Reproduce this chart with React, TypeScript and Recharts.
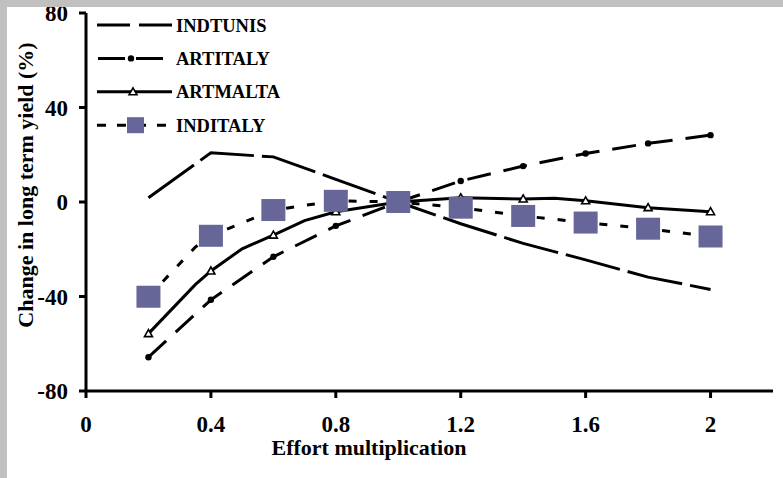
import React from 'react';
import { LineChart, Line, XAxis, YAxis, Label } from 'recharts';

// effort multipliers where every series has a value (markers drawn here)
const effort = [0.2, 0.4, 0.6, 0.8, 1.0, 1.2, 1.4, 1.6, 1.8, 2.0];

const indTunis = [1.8, 20.8, 19.1, 9.6, 0, -9.2, -17.5, -24.5, -31.8, -37];
const artItaly = [-65.7, -41.4, -23.2, -10.1, 0, 8.9, 15.2, 20.5, 24.8, 28.3];

// ARTMALTA and INDITALY have a few extra runs between the main steps
const maltaEffort = [0.2, 0.35, 0.4, 0.5, 0.6, 0.7, 0.8, 1.0, 1.2, 1.4, 1.5, 1.6, 1.8, 2.0];
const artMalta = [-55.7, -35, -29.2, -19.8, -14, -7.9, -4.1, 0, 1.8, 1.3, 1.6, 0.5, -2.4, -4.1];

const italyEffort = [0.2, 0.35, 0.4, 0.6, 0.8, 1.0, 1.2, 1.4, 1.6, 1.8, 2.0];
const indItaly = [-40.1, -19.1, -14.3, -3.4, 0.5, 0, -2.4, -5.9, -8.7, -11.3, -14.6];

const xTicks = [0, 0.4, 0.8, 1.2, 1.6, 2];
const yTicks = [-80, -40, 0, 40, 80];
const seriesNames = ['INDTUNIS', 'ARTITALY', 'ARTMALTA', 'INDITALY'];

const SERIF = '"Liberation Serif", "Times New Roman", serif';
const SQUARE = '#666699';

const toPoints = (xs: number[], ys: number[]) => ys.map((y, i) => ({ x: xs[i], y }));
const isMain = (x: number) => effort.includes(x);

const circleDot = (p: any) =>
  isMain(p.payload.x) ? (
    <circle key={`c${p.index}`} cx={p.cx} cy={p.cy} r={3.2} fill="#000" />
  ) : (
    <g key={`c${p.index}`} />
  );

const triangleDot = (p: any) =>
  isMain(p.payload.x) ? (
    <path
      key={`t${p.index}`}
      d={`M${p.cx},${p.cy - 4} L${p.cx + 4},${p.cy + 3} L${p.cx - 4},${p.cy + 3} Z`}
      fill="#fff"
      stroke="#000"
      strokeWidth={1.6}
    />
  ) : (
    <g key={`t${p.index}`} />
  );

const squareDot = (p: any) =>
  isMain(p.payload.x) ? (
    <rect key={`s${p.index}`} x={p.cx - 12} y={p.cy - 11} width={24} height={22} fill={SQUARE} />
  ) : (
    <g key={`s${p.index}`} />
  );

const tickStyle = { fill: '#000', fontSize: 23, fontWeight: 'bold', fontFamily: SERIF };
const axisStroke = { stroke: '#000', strokeWidth: 3 };

function LegendBox() {
  const rowY = (i: number) => 25 + i * 33.4;
  const label = (i: number) => (
    <text x={176} y={rowY(i) + 6.5} fontSize={18.5} fontWeight="bold" fontFamily={SERIF} fill="#000">
      {seriesNames[i]}
    </text>
  );
  return (
    <svg width={783} height={478} style={{ position: 'absolute', left: 0, top: 0, pointerEvents: 'none' }}>
      <line x1={97} x2={172} y1={rowY(0)} y2={rowY(0)} stroke="#000" strokeWidth={3} strokeDasharray="33 9" />
      {label(0)}
      <line x1={98} x2={163} y1={rowY(1)} y2={rowY(1)} stroke="#000" strokeWidth={3} strokeDasharray="27 11" />
      <circle cx={131} cy={rowY(1)} r={3.2} fill="#000" />
      {label(1)}
      <line x1={97} x2={172} y1={rowY(2)} y2={rowY(2)} stroke="#000" strokeWidth={3} />
      <path d={`M133,${rowY(2) - 4} L137,${rowY(2) + 3} L129,${rowY(2) + 3} Z`} fill="#fff" stroke="#000" strokeWidth={1.6} />
      {label(2)}
      <line x1={97} x2={172} y1={rowY(3)} y2={rowY(3)} stroke="#000" strokeWidth={3} strokeDasharray="9 11" />
      <rect x={127} y={rowY(3) - 8} width={17} height={16} fill={SQUARE} />
      {label(3)}
    </svg>
  );
}

export default function App() {
  return (
    <div style={{ position: 'absolute', left: 0, top: 0, width: 783, height: 478, background: '#fff', overflow: 'hidden' }}>
      <LineChart width={783} height={478} margin={{ top: 13, right: 10, bottom: 0, left: 0 }}>
        <XAxis
          dataKey="x"
          type="number"
          domain={[0, 2.2]}
          ticks={xTicks}
          tickFormatter={(v) => String(v)}
          tick={tickStyle}
          axisLine={axisStroke}
          tickLine={axisStroke}
          tickSize={7}
          tickMargin={18}
          height={87}
          allowDuplicatedCategory={false}
        >
          <Label
            content={() => (
              <text x={369} y={455} textAnchor="middle" fontSize={22} fontWeight="bold" fontFamily={SERIF} fill="#000">
                Effort multiplication
              </text>
            )}
          />
        </XAxis>
        <YAxis
          type="number"
          domain={[-80, 80]}
          ticks={yTicks}
          tick={tickStyle}
          axisLine={axisStroke}
          tickLine={axisStroke}
          tickSize={7}
          tickMargin={11}
          width={86}
        >
          <Label
            content={() => (
              <text
                x={33}
                y={185}
                transform="rotate(-90 33 185)"
                textAnchor="middle"
                fontSize={22}
                fontWeight="bold"
                fontFamily={SERIF}
                fill="#000"
              >
                Change in long term yield (%)
              </text>
            )}
          />
        </YAxis>

        {/* INDTUNIS: long dashes, no markers */}
        <Line
          data={toPoints(effort, indTunis)}
          dataKey="y"
          type="linear"
          stroke="#000"
          strokeWidth={3}
          strokeDasharray="56 8"
          dot={false}
          activeDot={false}
          isAnimationActive={false}
        />
        {/* ARTITALY: dashes with filled circles */}
        <Line
          data={toPoints(effort, artItaly)}
          dataKey="y"
          type="linear"
          stroke="#000"
          strokeWidth={3}
          strokeDasharray="24 13"
          dot={circleDot}
          activeDot={false}
          isAnimationActive={false}
        />
        {/* ARTMALTA: solid with open triangles */}
        <Line
          data={toPoints(maltaEffort, artMalta)}
          dataKey="y"
          type="linear"
          stroke="#000"
          strokeWidth={3}
          dot={triangleDot}
          activeDot={false}
          isAnimationActive={false}
        />
        {/* INDITALY: short dashes with blue squares */}
        <Line
          data={toPoints(italyEffort, indItaly)}
          dataKey="y"
          type="linear"
          stroke="#000"
          strokeWidth={3}
          strokeDasharray="8 13"
          dot={squareDot}
          activeDot={false}
          isAnimationActive={false}
        />
      </LineChart>
      <LegendBox />
      <div style={{ position: 'absolute', left: 0, top: 0, width: 783, height: 7, background: '#c0c0c0' }} />
      <div style={{ position: 'absolute', left: 0, top: 0, width: 7, height: 478, background: '#c0c0c0' }} />
    </div>
  );
}
